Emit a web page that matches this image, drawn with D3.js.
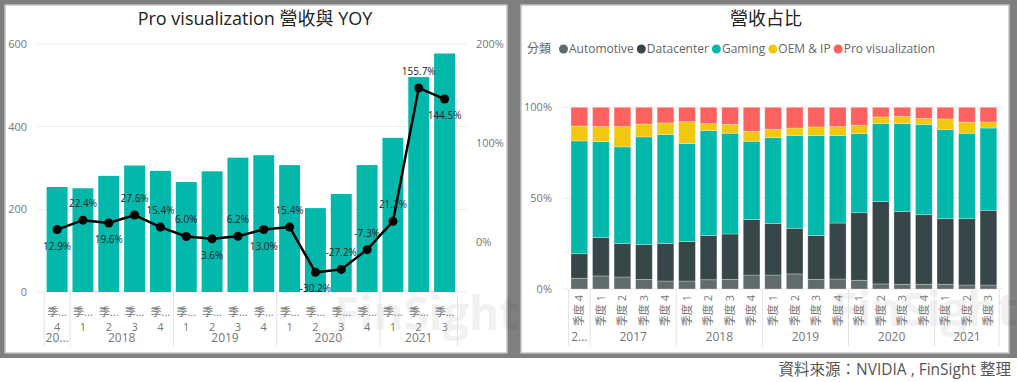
<!DOCTYPE html>
<html>
<head>
<meta charset="utf-8">
<script src="https://cdn.jsdelivr.net/npm/d3@7"></script>
<style>
  body { margin: 0; background: #fff; }
  svg { display: block; }
</style>
</head>
<body>
<div id="chart"></div>
<script>
// ---- data ----
// left: Pro visualization revenue (US$M) and YoY
const leftYears = ["2017", "2018", "2018", "2018", "2018", "2019", "2019", "2019", "2019",
  "2020", "2020", "2020", "2020", "2021", "2021", "2021"];
const leftQuarters = ["4", "1", "2", "3", "4", "1", "2", "3", "4", "1", "2", "3", "4", "1", "2", "3"];
const proVizRevenue = [254, 251, 281, 306, 293, 266, 292, 325, 331, 307, 203, 237, 307, 373, 520, 577];
const proVizYoy = [12.9, 22.4, 19.6, 27.6, 15.4, 6.0, 3.6, 6.2, 13.0, 15.4, -30.2, -27.2, -7.3, 21.2, 155.7, 144.5];
const leftTicks = [0, 200, 400, 600];
const leftPctTicks = [0, 100, 200];

// right: revenue share by segment (%)
const rightYears = ["2016", "2017", "2017", "2017", "2017", "2018", "2018", "2018", "2018",
  "2019", "2019", "2019", "2019", "2020", "2020", "2020", "2020", "2021", "2021", "2021"];
const rightQuarters = ["4", "1", "2", "3", "4", "1", "2", "3", "4", "1", "2", "3", "4",
  "1", "2", "3", "4", "1", "2", "3"];
const segments = ["Automotive", "Datacenter", "Gaming", "OEM & IP", "Pro visualization"];
const automotive = [5.9, 7.2, 6.6, 5.3, 4.4, 4.4, 5.1, 5.3, 7.7, 7.7, 8.3, 5.3, 5.5, 4.8, 2.8, 2.6, 2.6, 2.6, 2.2, 2.2];
const datacenter = [13.5, 21.1, 18.4, 19.1, 20.7, 21.7, 24.3, 25.0, 30.5, 28.3, 25.1, 24.1, 30.8, 37.2, 45.3, 40.0, 38.3, 36.1, 36.5, 41.1];
const gaming = [62.1, 52.8, 53.2, 59.3, 59.9, 53.9, 57.8, 55.4, 43.1, 47.3, 51.0, 55.0, 48.1, 43.5, 42.9, 48.4, 49.7, 49.0, 47.0, 45.3];
const oemIp = [8.2, 8.3, 11.2, 7.1, 6.4, 12.1, 3.8, 4.9, 5.5, 4.6, 4.2, 4.8, 5.0, 4.6, 3.7, 4.0, 3.3, 5.9, 6.2, 3.3];
const proViz = [10.3, 10.6, 10.6, 9.2, 8.6, 7.9, 9.0, 9.4, 13.2, 12.1, 11.4, 10.8, 10.6, 9.9, 5.3, 5.0, 6.1, 6.4, 8.1, 8.1];
const shareTicks = [0, 0.5, 1];

const segColors = ["#5F6B6D", "#374649", "#01B8AA", "#F2C80F", "#FD625E"];
const font = "'Open Sans','Noto Sans CJK TC',sans-serif";

const W = 1017, H = 382;
const svg = d3.select("#chart").append("svg")
  .attr("width", W).attr("height", H)
  .style("font-family", font);

// frame
svg.append("rect").attr("width", W).attr("height", 358).attr("fill", "#7f7f7f");
svg.append("rect").attr("x", 5).attr("y", 5).attr("width", 502).attr("height", 348)
  .attr("fill", "#fff").attr("stroke", "#c4c4c4").attr("stroke-width", 1.5);
svg.append("rect").attr("x", 521).attr("y", 5).attr("width", 488).attr("height", 348)
  .attr("fill", "#fff").attr("stroke", "#c4c4c4").attr("stroke-width", 1.5);

// watermark
[[334, 330], [832, 326]].forEach(p => {
  svg.append("text").attr("x", p[0]).attr("y", p[1])
    .attr("font-size", 46).attr("font-weight", 700)
    .attr("fill", "#000").attr("opacity", 0.05)
    .text("FinSight");
});

// shorten text with "..." until it fits
function fit(sel, maxW) {
  sel.each(function (d) {
    const t = d3.select(this);
    const w = typeof maxW === "function" ? maxW(d) : maxW;
    let s = t.text();
    if (this.getComputedTextLength() <= w) return;
    while (s.length > 1) {
      s = s.slice(0, -1);
      t.text(s + "...");
      if (this.getComputedTextLength() <= w) break;
    }
  });
}

// group consecutive equal years
function groups(years) {
  const out = [];
  years.forEach((y, i) => {
    if (out.length && out[out.length - 1].year === y) out[out.length - 1].end = i;
    else out.push({ year: y, start: i, end: i });
  });
  return out;
}

// ================= left chart =================
const g1 = svg.append("g");
g1.append("text").attr("x", 255).attr("y", 25).attr("text-anchor", "middle")
  .attr("font-size", 18).attr("fill", "#222")
  .text("Pro visualization 營收與 YOY");

const x1 = d3.scaleBand().domain(d3.range(proVizRevenue.length))
  .range([44.2, 457.5]).paddingInner(0.19).paddingOuter(0.095);
const y1 = d3.scaleLinear().domain([0, 600]).range([292, 44]);
const y1r = d3.scaleLinear().domain([-50, 200]).range([292, 44]);

g1.append("g").selectAll("line").data(leftTicks).join("line")
  .attr("x1", 37).attr("x2", 466).attr("y1", d => y1(d)).attr("y2", d => y1(d))
  .attr("stroke", "#eaeaea");

g1.append("g").selectAll("text").data(leftTicks).join("text")
  .attr("x", 27).attr("y", d => y1(d)).attr("dy", "0.35em").attr("text-anchor", "end")
  .attr("font-size", 11).attr("fill", "#777").text(d => d);

g1.append("g").selectAll("text").data(leftPctTicks).join("text")
  .attr("x", 476).attr("y", d => y1r(d)).attr("dy", "0.35em")
  .attr("font-size", 11).attr("fill", "#777").text(d => d + "%");

g1.append("g").selectAll("rect").data(proVizRevenue).join("rect")
  .attr("x", (d, i) => x1(i)).attr("width", x1.bandwidth())
  .attr("y", d => y1(d)).attr("height", d => y1(0) - y1(d))
  .attr("fill", "#01B8AA");

const cx1 = i => x1(i) + x1.bandwidth() / 2;
const line1 = d3.line().x((d, i) => cx1(i)).y(d => y1r(d));
g1.append("path").datum(proVizYoy).attr("d", line1)
  .attr("fill", "none").attr("stroke", "#000").attr("stroke-width", 2.5);
g1.append("g").selectAll("circle").data(proVizYoy).join("circle")
  .attr("cx", (d, i) => cx1(i)).attr("cy", d => y1r(d)).attr("r", 4.5).attr("fill", "#000");

// which labels Power BI pushed under the point
const yoyLabelsBelow = new Set([0, 2, 6, 8, 10, 15]);
g1.append("g").selectAll("text").data(proVizYoy).join("text")
  .attr("x", (d, i) => cx1(i))
  .attr("y", (d, i) => y1r(d) + (yoyLabelsBelow.has(i) ? 16.5 : -16.5))
  .attr("dy", "0.35em").attr("text-anchor", "middle")
  .attr("font-size", 10).attr("fill", "#222")
  .text(d => d.toFixed(1) + "%");

// x axis (three rows)
const step1 = x1.step(), pad1 = step1 * x1.paddingInner() / 2;
g1.append("g").selectAll("text").data(leftQuarters).join("text")
  .attr("x", (d, i) => cx1(i)).attr("y", 312).attr("dy", "0.35em").attr("text-anchor", "middle")
  .attr("font-size", 11).attr("fill", "#777").text("季度")
  .call(fit, 14);
g1.append("g").selectAll("text").data(leftQuarters).join("text")
  .attr("x", (d, i) => cx1(i)).attr("y", 327).attr("dy", "0.35em").attr("text-anchor", "middle")
  .attr("font-size", 11).attr("fill", "#777").text(d => d);
const gr1 = groups(leftYears);
g1.append("g").selectAll("text").data(gr1).join("text")
  .attr("x", d => (x1(d.start) + x1(d.end) + x1.bandwidth()) / 2)
  .attr("y", 338).attr("dy", "0.35em").attr("text-anchor", "middle")
  .attr("font-size", 12).attr("fill", "#777").text(d => d.year)
  .call(fit, d => (d.end - d.start + 1) * step1 - 2);
const sep1 = gr1.map(d => x1(d.start) - pad1).concat([x1(leftYears.length - 1) + x1.bandwidth() + pad1]);
g1.append("g").selectAll("line").data(sep1).join("line")
  .attr("x1", d => d).attr("x2", d => d).attr("y1", 292).attr("y2", 346)
  .attr("stroke", "#e3e3e3");

// ================= right chart =================
const g2 = svg.append("g");
g2.append("text").attr("x", 766).attr("y", 25).attr("text-anchor", "middle")
  .attr("font-size", 18).attr("fill", "#222").text("營收占比");

// legend
const legend = g2.append("g").attr("font-size", 12).attr("fill", "#666");
legend.append("text").attr("x", 527).attr("y", 49).attr("dy", "0.35em").text("分類");
let lx = 559;
segments.forEach((s, i) => {
  legend.append("circle").attr("cx", lx + 4.5).attr("cy", 49).attr("r", 4.5).attr("fill", segColors[i]);
  const t = legend.append("text").attr("x", lx + 10).attr("y", 49).attr("dy", "0.35em").text(s);
  lx += 10 + t.node().getComputedTextLength() + 3;
});

const rows = rightQuarters.map((q, i) => ({
  "Automotive": automotive[i], "Datacenter": datacenter[i], "Gaming": gaming[i],
  "OEM & IP": oemIp[i], "Pro visualization": proViz[i]
}));
const stacked = d3.stack().keys(segments).offset(d3.stackOffsetExpand)(rows);

const x2 = d3.scaleBand().domain(d3.range(rows.length))
  .range([568.6, 999.2]).paddingInner(0.224).paddingOuter(0.112);
const y2 = d3.scaleLinear().domain([0, 1]).range([289, 107.3]);

g2.append("g").selectAll("line").data(shareTicks).join("line")
  .attr("x1", 562).attr("x2", 1003).attr("y1", d => y2(d)).attr("y2", d => y2(d))
  .attr("stroke", "#eaeaea");
g2.append("g").selectAll("text").data(shareTicks).join("text")
  .attr("x", 552).attr("y", d => y2(d)).attr("dy", "0.35em").attr("text-anchor", "end")
  .attr("font-size", 11).attr("fill", "#777").text(d3.format(".0%"));

g2.append("g").selectAll("g").data(stacked).join("g")
  .attr("fill", (d, i) => segColors[i])
  .selectAll("rect").data(d => d).join("rect")
  .attr("x", (d, i) => x2(i)).attr("width", x2.bandwidth())
  .attr("y", d => y2(d[1])).attr("height", d => y2(d[0]) - y2(d[1]))
  .attr("stroke", "#fff").attr("stroke-opacity", 0.35).attr("stroke-width", 0.8);

// x axis: rotated quarter labels + years
g2.append("g").selectAll("text").data(rightQuarters).join("text")
  .attr("transform", (d, i) => `translate(${x2(i) + x2.bandwidth() / 2},295) rotate(-90)`)
  .attr("dy", "0.35em").attr("text-anchor", "end")
  .attr("font-size", 11).attr("fill", "#777").text(d => "季度 " + d);
const step2 = x2.step(), pad2 = step2 * x2.paddingInner() / 2;
const gr2 = groups(rightYears);
g2.append("g").selectAll("text").data(gr2).join("text")
  .attr("x", d => (x2(d.start) + x2(d.end) + x2.bandwidth()) / 2)
  .attr("y", 337).attr("dy", "0.35em").attr("text-anchor", "middle")
  .attr("font-size", 12).attr("fill", "#777").text(d => d.year)
  .call(fit, d => (d.end - d.start + 1) * step2 - 2);
const sep2 = gr2.map(d => x2(d.start) - pad2).concat([x2(rightYears.length - 1) + x2.bandwidth() + pad2]);
g2.append("g").selectAll("line").data(sep2).join("line")
  .attr("x1", d => d).attr("x2", d => d).attr("y1", 289).attr("y2", 346)
  .attr("stroke", "#e3e3e3");

// source
svg.append("text").attr("x", 1011).attr("y", 370).attr("dy", "0.35em").attr("text-anchor", "end")
  .attr("font-size", 15.5).attr("fill", "#555")
  .text("資料來源：NVIDIA , FinSight 整理");
</script>
</body>
</html>
